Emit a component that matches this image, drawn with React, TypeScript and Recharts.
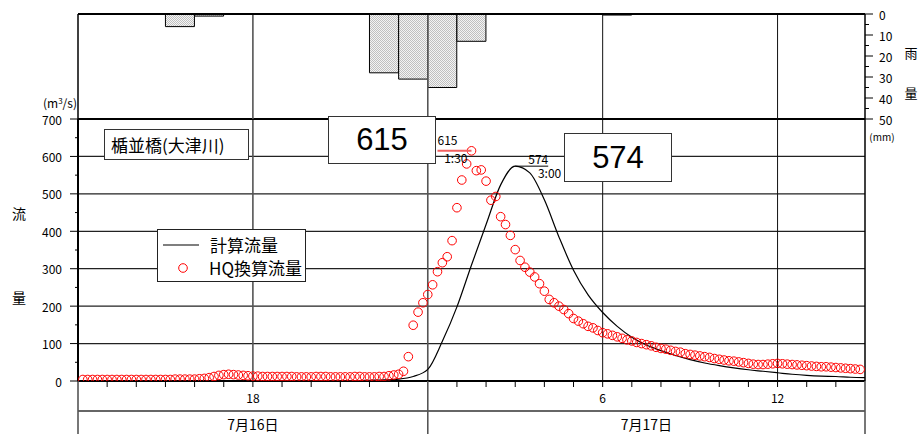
import React from 'react';
import {
  BarChart,
  Bar,
  ComposedChart,
  Line,
  Scatter,
  XAxis,
  YAxis,
  ReferenceLine,
  ReferenceDot,
  Legend,
} from 'recharts';

// t = 7/16 12:00 からの経過時間 (h)
const START_HOUR = 12;
const SPAN_HOURS = 27;

// 時間雨量 (mm)  12時台 〜 翌14時台
const rainMm = [0, 0, 0, 6, 1, 0, 0, 0, 0, 0, 28, 31, 35, 13, 0, 0, 0, 0, 0.5, 0, 0, 0, 0, 0, 0, 0, 0];

// 計算流量 (m3/s)  30分毎 12:00 〜 翌15:00
const calcFlow = [
  1, 1, 1, 1, 1, 1, 1, 1, 1, 1, 1, 1, 1, 1, 1, 1, 1, 1, 1, 1,
  2, 3, 5, 12, 31, 106, 198, 310, 418, 524, 574, 556, 484, 385, 296, 230, 183, 146, 117, 96,
  81, 68, 57, 48, 41, 35, 30, 26, 22, 18, 15, 13, 12, 10, 9,
];

// HQ換算流量 (m3/s)  10分毎 12:10 〜 翌14:50
const hqFlow = [
  4, 4, 4, 4, 4, 4, 4, 4, 4, 4, 4, 4, 4, 4, 4, 4, 4, 4, 4, 5, 5, 5, 5, 5,
  6, 7, 9, 12, 15, 17, 18, 17, 16, 15, 14, 13,
  13, 12, 12, 12, 12, 12, 12, 12, 11, 11, 11, 11, 12, 12, 12, 11, 11, 11, 11, 11, 12, 12, 11, 11, 11, 12,
  12, 14, 16, 18, 26, 65, 149, 184, 209, 231, 257, 292, 316, 332, 375, 463, 537, 580, 615, 562,
  564, 534, 483, 493, 439, 418, 389, 351, 322, 304, 291, 278, 260, 240, 218, 209, 200, 191, 180, 167,
  160, 153, 146, 142, 135, 129, 126, 122, 118, 114, 110, 107, 103, 100, 97, 94, 90, 87, 85, 82,
  79, 77, 73, 71, 69, 67, 65, 63, 60, 58, 56, 54, 53, 51, 49, 47, 45, 44, 44, 45,
  46, 47, 46, 45, 44, 43, 42, 41, 40, 39, 38, 38, 37, 36, 35, 34, 33, 32, 31,
];

const flowTicks = [0, 50, 100, 150, 200, 250, 300, 350, 400, 450, 500, 550, 600, 650, 700];
const flowGrid = [100, 200, 300, 400, 500, 600];
const rainTicks = [0, 5, 10, 15, 20, 25, 30, 35, 40, 45, 50];
const hourTicks = Array.from({ length: SPAN_HOURS + 1 }, (_, i) => i);
const hourLabels: Record<number, string> = { 6: '18', 18: '6', 24: '12' };
const dayBounds = [0, 12, 27];
const dayTicks = [0, 6, 12, 19.5, 27];
const dayLabels: Record<number, string> = { 6: '7月16日', 19.5: '7月17日' };
const gridMajor = [6, 12];
const gridMinor = [18, 24];

const rainData = rainMm.map((mm, i) => ({ t: i + 0.5, mm }));
const calcData = calcFlow.map((q, i) => ({ t: i / 2, q }));
const hqData = hqFlow.map((q, i) => ({ t: (i + 1) / 6, q }));

const peakOf = (d: { t: number; q: number }[]) => d.reduce((a, b) => (b.q > a.q ? b : a));
const hqPeak = peakOf(hqData);
const calcPeak = peakOf(calcData);

const fmtTime = (t: number) => {
  const m = Math.round(((START_HOUR + t) % 24) * 60);
  return `${Math.floor(m / 60)}:${String(m % 60).padStart(2, '0')}`;
};

const FONT = "'Noto Sans CJK JP', 'Noto Sans', sans-serif";

const FlowTick = ({ x, y, payload }: any) => {
  const v = payload.value;
  const major = v % 100 === 0;
  return (
    <g>
      <line x1={x - (major ? 8 : 3)} x2={x} y1={y} y2={y} stroke="#000" strokeWidth={1} />
      {major && (
        <text x={x - 16} y={y} textAnchor="end" dominantBaseline="central" fontSize={12} fill="#000">
          {v}
        </text>
      )}
    </g>
  );
};

const RainTick = ({ x, y, payload }: any) => {
  const v = payload.value;
  const major = v % 10 === 0;
  return (
    <g>
      <line x1={x} x2={x + (major ? 8 : 4)} y1={y} y2={y} stroke="#000" strokeWidth={1} />
      {major && (
        <text x={x + 14} y={y} textAnchor="start" dominantBaseline="central" fontSize={12} fill="#000">
          {v}
        </text>
      )}
    </g>
  );
};

const HourTick = ({ x, y, payload }: any) => {
  const t = payload.value;
  const bound = dayBounds.includes(t);
  const label = hourLabels[t];
  return (
    <g>
      <line
        x1={x}
        x2={x}
        y1={y}
        y2={y + (bound ? 30 : 6)}
        stroke={bound ? '#555' : '#000'}
        strokeWidth={bound ? 1.6 : 1}
      />
      {label && (
        <text x={x} y={y + 16} textAnchor="middle" dominantBaseline="central" fontSize={12} fill="#000">
          {label}
        </text>
      )}
    </g>
  );
};

const DayTick = ({ x, y, payload }: any) => {
  const t = payload.value;
  if (dayBounds.includes(t)) {
    return <line x1={x} x2={x} y1={y} y2={y + 23} stroke="#555" strokeWidth={1.6} />;
  }
  return (
    <text x={x} y={y + 13} textAnchor="middle" dominantBaseline="central" fontSize={14} fill="#000">
      {dayLabels[t]}
    </text>
  );
};

const HqPeakMark = ({ cx, cy }: any) => (
  <g fontSize={12} fill="#000">
    <line x1={cx - 34} x2={cx} y1={cy} y2={cy} stroke="#f26060" strokeWidth={2} />
    <text x={cx - 34} y={cy - 6} textAnchor="start">{hqPeak.q}</text>
    <text x={cx - 4} y={cy + 7} textAnchor="end" dominantBaseline="central">{fmtTime(hqPeak.t)}</text>
  </g>
);

const CalcPeakMark = ({ cx, cy }: any) => (
  <g fontSize={12} fill="#000">
    <line x1={cx} x2={cx + 33} y1={cy} y2={cy} stroke="#000" strokeWidth={1} />
    <text x={cx + 33} y={cy - 8} textAnchor="end" dominantBaseline="central">{calcPeak.q}</text>
    <text x={cx + 46} y={cy + 6} textAnchor="end" dominantBaseline="central">{fmtTime(calcPeak.t)}</text>
  </g>
);

const HqDot = ({ cx, cy }: any) => (
  <circle cx={cx} cy={cy} r={4.3} fill="none" stroke="#ff0000" strokeWidth={1} />
);

const LegendBox = () => (
  <div
    style={{
      width: 149,
      height: 53,
      boxSizing: 'border-box',
      border: '1.5px solid #222',
      background: '#fff',
      position: 'relative',
      fontFamily: FONT,
      fontSize: 17,
      lineHeight: '17px',
    }}
  >
    <svg width={149} height={53} style={{ position: 'absolute', left: 0, top: 0 }}>
      <line x1={5} x2={41} y1={15} y2={15} stroke="#000" strokeWidth={1.2} />
      <circle cx={25} cy={38} r={4.3} fill="none" stroke="#ff0000" strokeWidth={1} />
    </svg>
    <span style={{ position: 'absolute', left: 52, top: 6 }}>計算流量</span>
    <span style={{ position: 'absolute', left: 51, top: 29 }}>HQ換算流量</span>
  </div>
);

const boxStyle: React.CSSProperties = {
  position: 'absolute',
  boxSizing: 'border-box',
  border: '1.5px solid #333',
  background: '#fff',
  display: 'flex',
  alignItems: 'center',
  justifyContent: 'center',
};

const textAt = (left: number, top: number, size: number): React.CSSProperties => ({
  position: 'absolute',
  left,
  top,
  fontSize: size,
  lineHeight: `${size}px`,
  transform: 'translate(-50%, -50%)',
  whiteSpace: 'nowrap',
});

export default function App() {
  return (
    <div
      style={{
        position: 'absolute',
        left: 0,
        top: 0,
        width: 920,
        height: 434,
        overflow: 'hidden',
        background: '#fff',
        fontFamily: FONT,
        color: '#000',
      }}
    >
      <div style={{ position: 'absolute', left: 0, top: 0 }}>
        <ComposedChart width={920} height={434} margin={{ top: 119, right: 55, bottom: 0, left: 38 }}>
          <XAxis
            xAxisId="b"
            type="number"
            dataKey="t"
            domain={[0, SPAN_HOURS]}
            ticks={dayTicks}
            interval={0}
            height={23}
            tickSize={0}
            tickMargin={0}
            tickLine={false}
            tick={<DayTick />}
            axisLine={{ stroke: '#666', strokeWidth: 2 }}
            allowDataOverflow
          />
          <XAxis
            xAxisId="a"
            type="number"
            dataKey="t"
            domain={[0, SPAN_HOURS]}
            ticks={hourTicks}
            interval={0}
            height={30}
            tickSize={0}
            tickMargin={0}
            tickLine={false}
            tick={<HourTick />}
            axisLine={{ stroke: '#000', strokeWidth: 2 }}
            allowDataOverflow
          />
          <YAxis
            type="number"
            domain={[0, 700]}
            ticks={flowTicks}
            interval={0}
            width={40}
            tickSize={0}
            tickMargin={0}
            tickLine={false}
            tick={<FlowTick />}
            axisLine={{ stroke: '#000', strokeWidth: 2 }}
            allowDataOverflow
          />
          {flowGrid.map((v) => (
            <ReferenceLine key={`h${v}`} xAxisId="a" y={v} stroke="#222" strokeWidth={1.2} />
          ))}
          {gridMajor.map((t) => (
            <ReferenceLine key={`v${t}`} xAxisId="a" x={t} stroke="#555" strokeWidth={1.6} />
          ))}
          {gridMinor.map((t) => (
            <ReferenceLine key={`m${t}`} xAxisId="a" x={t} stroke="#111" strokeWidth={1} />
          ))}
          <ReferenceLine xAxisId="a" y={700} stroke="#000" strokeWidth={2} />
          <ReferenceLine xAxisId="a" x={SPAN_HOURS} stroke="#000" strokeWidth={1.5} />
          <Line
            xAxisId="a"
            data={calcData}
            dataKey="q"
            type="monotone"
            stroke="#000"
            strokeWidth={1.2}
            dot={false}
            isAnimationActive={false}
          />
          <Scatter
            xAxisId="a"
            data={hqData}
            dataKey="q"
            shape={<HqDot />}
            isAnimationActive={false}
          />
          <ReferenceDot xAxisId="a" x={hqPeak.t} y={hqPeak.q} r={0} shape={<HqPeakMark />} />
          <ReferenceDot xAxisId="a" x={calcPeak.t} y={calcPeak.q} r={0} shape={<CalcPeakMark />} />
          <Legend
            layout="vertical"
            align="center"
            verticalAlign="middle"
            content={<LegendBox />}
            wrapperStyle={{ position: 'absolute', left: 157, top: 229, width: 149, height: 53 }}
          />
        </ComposedChart>
      </div>

      <div style={{ position: 'absolute', left: 0, top: 0 }}>
        <BarChart
          width={920}
          height={140}
          data={rainData}
          margin={{ top: 14, right: 0, bottom: 21, left: 78 }}
          barCategoryGap={0}
          barGap={0}
        >
          <defs>
            <pattern id="rainDots" width="2" height="2" patternUnits="userSpaceOnUse">
              <rect width="2" height="2" fill="#f4f4f4" />
              <rect width="1" height="1" fill="#c0c0c0" />
              <rect x="1" y="1" width="1" height="1" fill="#c0c0c0" />
            </pattern>
          </defs>
          <XAxis type="number" dataKey="t" domain={[0, SPAN_HOURS]} hide />
          <YAxis
            orientation="right"
            type="number"
            domain={[0, 50]}
            reversed
            ticks={rainTicks}
            interval={0}
            width={55}
            tickSize={0}
            tickMargin={0}
            tickLine={false}
            tick={<RainTick />}
            axisLine={{ stroke: '#000', strokeWidth: 1.5 }}
            allowDataOverflow
          />
          {gridMajor.map((t) => (
            <ReferenceLine key={`rv${t}`} x={t} stroke="#555" strokeWidth={1.6} />
          ))}
          {gridMinor.map((t) => (
            <ReferenceLine key={`rm${t}`} x={t} stroke="#111" strokeWidth={1} />
          ))}
          <ReferenceLine x={0} stroke="#000" strokeWidth={1.5} />
          <Bar dataKey="mm" fill="url(#rainDots)" stroke="#000" strokeWidth={1} isAnimationActive={false} />
          <ReferenceLine y={0} stroke="#000" strokeWidth={2} />
        </BarChart>
      </div>

      {/* 軸ラベル */}
      <div style={textAt(60, 103, 12)}>
        (m<sup style={{ fontSize: 8, verticalAlign: 'top', lineHeight: '8px' }}>3</sup>/s)
      </div>
      <div style={textAt(19, 213, 14)}>流</div>
      <div style={textAt(19, 297, 14)}>量</div>
      <div style={textAt(882, 137, 10)}>(mm)</div>
      <div style={textAt(911, 52, 13)}>雨</div>
      <div style={textAt(911, 92, 13)}>量</div>

      {/* 地点名 */}
      <div
        style={{
          ...boxStyle,
          left: 104,
          top: 129,
          width: 145,
          height: 31,
          justifyContent: 'flex-start',
          paddingLeft: 6,
          fontSize: 17,
        }}
      >
        楯並橋(大津川)
      </div>

      {/* ピーク流量 */}
      <div
        style={{
          ...boxStyle,
          left: 328,
          top: 116,
          width: 108,
          height: 48,
          fontFamily: "'Liberation Sans', Arial, sans-serif",
          fontSize: 31,
        }}
      >
        {hqPeak.q}
      </div>
      <div
        style={{
          ...boxStyle,
          left: 564,
          top: 133,
          width: 108,
          height: 49,
          fontFamily: "'Liberation Sans', Arial, sans-serif",
          fontSize: 31,
        }}
      >
        {calcPeak.q}
      </div>
    </div>
  );
}
